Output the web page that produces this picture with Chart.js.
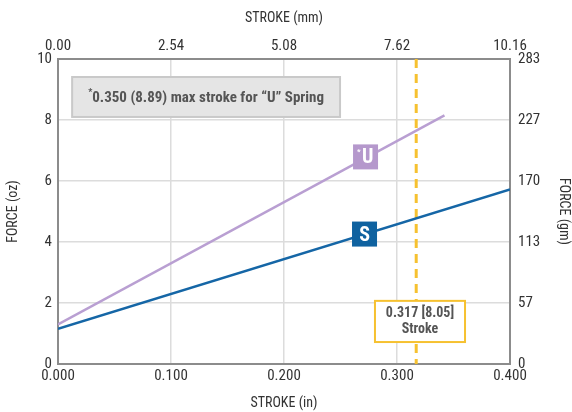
<!DOCTYPE html>
<html><head><meta charset="utf-8">
<script src="https://cdn.jsdelivr.net/npm/chart.js@4"></script>
<style>html,body{margin:0;padding:0;background:#fff}#c{display:block}</style>
</head><body>
<canvas id="c" width="572" height="412"></canvas>
<script>
const strokeIn = [0.0, 0.1, 0.2, 0.3, 0.4];
const inLabels = ['0.000','0.100','0.200','0.300','0.400'];
const mmLabels = ['0.00','2.54','5.08','7.62','10.16'];
const ozLabels = ['0','2','4','6','8','10'];
const gmLabels = ['0','57','113','170','227','283'];
const uSpring = [{x:0.0, y:1.3}, {x:0.342, y:8.15}];
const sSpring = [{x:0.0, y:1.15}, {x:0.4, y:5.72}];
const strokeMark = 0.317;

const FONT = "'Liberation Sans Narrow', 'Roboto Condensed', 'Liberation Sans', sans-serif";

const annot = {
  id:'annot',
  beforeDatasetsDraw(chart){
    const {ctx, scales:{x,y}} = chart;
    const px = x.getPixelForValue(strokeMark);
    ctx.save();
    ctx.strokeStyle = '#f6c130'; ctx.lineWidth = 3; ctx.setLineDash([9,6]);
    ctx.beginPath(); ctx.moveTo(px, y.getPixelForValue(10)); ctx.lineTo(px, y.getPixelForValue(0)); ctx.stroke();
    ctx.restore();
  },
  afterDatasetsDraw(chart){
    const {ctx, scales:{x,y}} = chart;
    ctx.save();
    let x0 = x.getPixelForValue(0.0125), x1 = x.getPixelForValue(0.2496);
    let y0 = y.getPixelForValue(9.41), y1 = y.getPixelForValue(8.1);
    ctx.fillStyle = '#e5e5e5'; ctx.fillRect(x0,y0,x1-x0,y1-y0);
    ctx.strokeStyle = '#c9c9c9'; ctx.lineWidth = 2; ctx.strokeRect(x0,y0,x1-x0,y1-y0);
    ctx.fillStyle = '#555';
    ctx.textBaseline = 'middle';
    const main = '0.350 (8.89) max stroke for \u201cU\u201d Spring';
    ctx.font = 'bold 15px ' + FONT;
    const w = ctx.measureText(main).width;
    ctx.font = 'bold 9px ' + FONT;
    const ws = ctx.measureText('*').width;
    const cx = (x0+x1)/2, cy = (y0+y1)/2;
    let sx = cx - (w+ws)/2;
    ctx.textAlign = 'left';
    ctx.fillText('*', sx, cy-4);
    ctx.font = 'bold 15px ' + FONT;
    ctx.fillText(main, sx+ws, cy+1);

    let bx = x.getPixelForValue(0.2611), by = y.getPixelForValue(7.2);
    ctx.fillStyle = '#b598cc'; ctx.fillRect(bx, by, 25, 25);
    ctx.fillStyle = '#fff';
    ctx.font = 'bold 8px ' + FONT; ctx.fillText('*', bx+4, by+8);
    ctx.font = 'bold 20px ' + FONT; ctx.fillText('U', bx+9, by+14);

    bx = x.getPixelForValue(0.2602); by = y.getPixelForValue(4.67);
    ctx.fillStyle = '#0f62a0'; ctx.fillRect(bx, by, 25, 25);
    ctx.fillStyle = '#fff'; ctx.textAlign = 'center';
    ctx.font = 'bold 20px ' + FONT; ctx.fillText('S', bx+12.5, by+14);

    x0 = x.getPixelForValue(0.2805); x1 = x.getPixelForValue(0.3602);
    y0 = y.getPixelForValue(2.07); y1 = y.getPixelForValue(0.72);
    ctx.fillStyle = '#fff'; ctx.fillRect(x0,y0,x1-x0,y1-y0);
    ctx.strokeStyle = '#f6c130'; ctx.lineWidth = 2; ctx.strokeRect(x0,y0,x1-x0,y1-y0);
    ctx.fillStyle = '#555'; ctx.font = 'bold 14px ' + FONT;
    ctx.fillText('0.317 [8.05]', (x0+x1)/2, y0+13);
    ctx.fillText('Stroke', (x0+x1)/2, y0+29);
    ctx.restore();
  }
};

const tickFont = {family: FONT, size: 15};
const titleFont = {family: FONT, size: 14};
const txt = '#333';
const fit = (prop, v) => function(s){ s[prop] = v; };

new Chart(document.getElementById('c'), {
  type: 'scatter',
  data: { datasets: [
    {label:'U', data: uSpring, showLine:true, borderColor:'#b99fd2', borderWidth:2.5, pointRadius:0, xAxisID:'x', yAxisID:'y'},
    {label:'S', data: sSpring, showLine:true, borderColor:'#1566a6', borderWidth:2.5, pointRadius:0, xAxisID:'x', yAxisID:'y'}
  ]},
  options: {
    responsive:false, animation:false,
    layout:{padding:0},
    plugins:{legend:{display:false}, tooltip:{enabled:false}},
    scales:{
      x:{type:'linear', position:'bottom', min:0, max:0.4,
         afterBuildTicks(s){ s.ticks = strokeIn.map(v=>({value:v})); },
         afterFit: fit('height', 48),
         ticks:{font:tickFont, color:txt, padding:3, callback:(v,i)=>inLabels[i]},
         grid:{color:'#dcdcdc', lineWidth:1.5, drawTicks:false},
         border:{color:'#8c8c8c', width:2},
         title:{display:true, text:'STROKE (in)', font:titleFont, color:txt, padding:{top:4,bottom:0}}},
      x2:{type:'linear', position:'top', min:0, max:0.4,
         afterBuildTicks(s){ s.ticks = strokeIn.map(v=>({value:v})); },
         afterFit: fit('height', 59),
         ticks:{font:tickFont, color:txt, padding:4, callback:(v,i)=>mmLabels[i]},
         grid:{display:false, drawTicks:false},
         border:{color:'#8c8c8c', width:2},
         title:{display:true, text:'STROKE (mm)', font:titleFont, color:txt, padding:{top:10,bottom:4}}},
      y:{type:'linear', position:'left', min:0, max:10,
         ticks:{stepSize:2, font:tickFont, color:txt, padding:6, callback:(v)=>ozLabels[v/2]},
         afterFit: fit('width', 58),
         grid:{color:'#dcdcdc', lineWidth:1.5, drawTicks:false},
         border:{color:'#8c8c8c', width:2},
         title:{display:true, text:'FORCE (oz)', font:titleFont, color:txt, padding:{top:5,bottom:4}}},
      y2:{type:'linear', position:'right', min:0, max:10,
         ticks:{stepSize:2, font:tickFont, color:txt, padding:8, callback:(v)=>gmLabels[v/2]},
         afterFit: fit('width', 62),
         grid:{display:false, drawTicks:false},
         border:{color:'#8c8c8c', width:2},
         title:{display:true, text:'FORCE (gm)', font:titleFont, color:txt, padding:{top:0,bottom:4}}}
    }
  },
  plugins:[annot]
});
</script>
</body></html>
